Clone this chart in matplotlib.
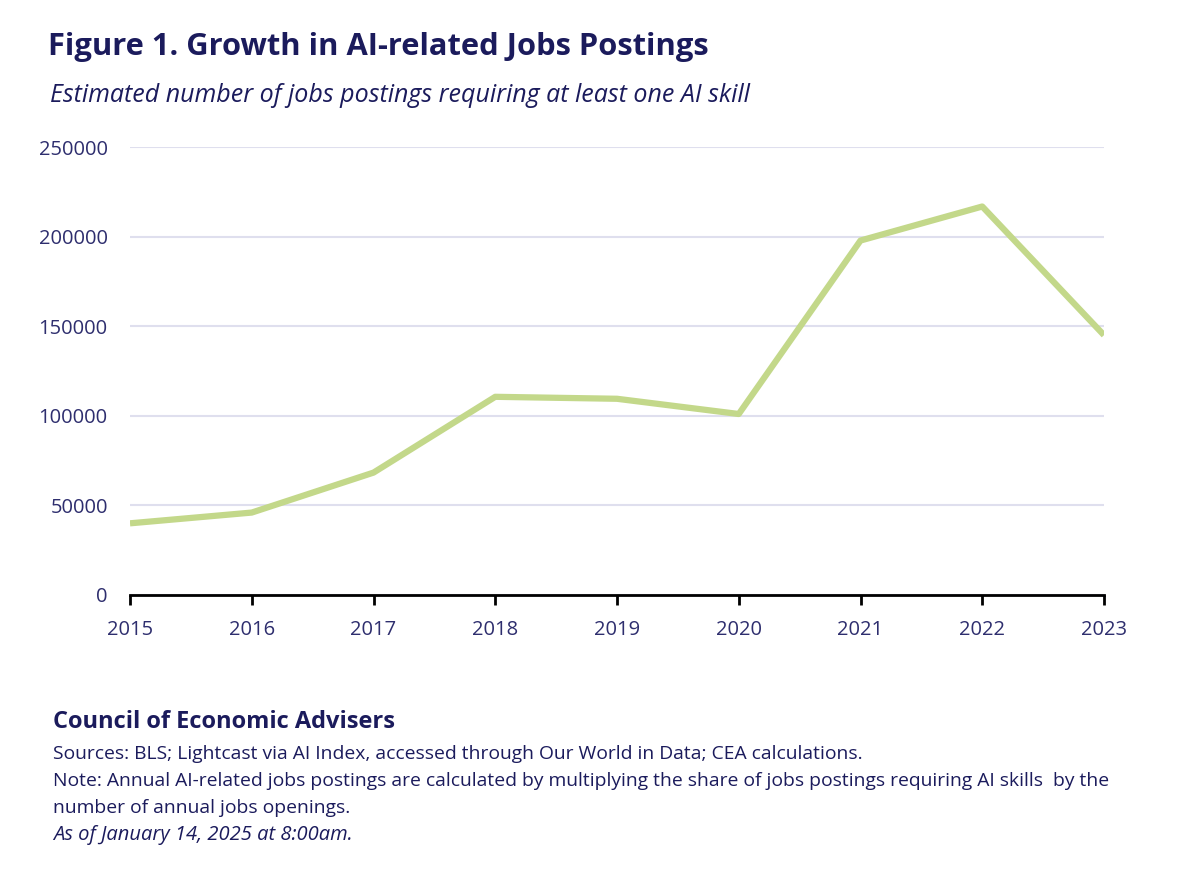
import matplotlib
matplotlib.use('Agg')
import matplotlib.pyplot as plt

years = [2015, 2016, 2017, 2018, 2019, 2020, 2021, 2022, 2023]
postings = [40000, 46000, 68300, 110600, 109500, 101000, 197800, 216800, 145000]
yticks = [0, 50000, 100000, 150000, 200000, 250000]

navy = '#1b1b5c'
tickcol = '#2e2e6e'
green = '#c3d88a'

plt.rcParams['font.family'] = ['Open Sans', 'DejaVu Sans']

fig = plt.figure(figsize=(11.96, 8.84), dpi=100)
ax = fig.add_axes([130/1196, 1-595/884, (1104-130)/1196, (595-147)/884])

ax.plot(years, postings, color=green, lw=4.5, solid_capstyle='butt', zorder=3)

ax.set_xlim(2015, 2023)
ax.set_ylim(0, 250000)
ax.set_xticks(years)
ax.set_yticks(yticks)
ax.set_yticklabels([str(v) for v in yticks])
ax.grid(axis='y', color='#dfdfee', lw=1.5, zorder=0)
ax.set_axisbelow(True)
for s in ['top', 'right', 'left']:
    ax.spines[s].set_visible(False)
ax.spines['bottom'].set_color('black')
ax.spines['bottom'].set_linewidth(2)
ax.spines['bottom'].set_zorder(4)
ax.tick_params(axis='x', direction='out', length=7, width=2, color='black',
               labelsize=14.5, labelcolor=tickcol, pad=11)
ax.tick_params(axis='y', length=0, labelsize=14.5, labelcolor=tickcol, pad=16)

fig.text(48/1196, 1-47/884, 'Figure 1. Growth in AI-related Jobs Postings',
         fontsize=22.2, fontweight='bold', color=navy, va='center', ha='left')
fig.text(50/1196, 1-96/884, 'Estimated number of jobs postings requiring at least one AI skill',
         fontsize=18, style='italic', color=navy, va='center', ha='left')

fig.text(53/1196, 1-722/884, 'Council of Economic Advisers',
         fontsize=17, fontweight='bold', color=navy, va='center', ha='left')
notes = ['Sources: BLS; Lightcast via AI Index, accessed through Our World in Data; CEA calculations.',
         'Note: Annual AI-related jobs postings are calculated by multiplying the share of jobs postings requiring AI skills  by the',
         'number of annual jobs openings.']
for i, t in enumerate(notes):
    fig.text(53/1196, 1-(754+27*i)/884, t, fontsize=13.9, color=navy,
             va='center', ha='left')
fig.text(53/1196, 1-835/884, 'As of January 14, 2025 at 8:00am.', fontsize=14.5,
         style='italic', color=navy, va='center', ha='left')

fig.savefig('out.png', dpi=100)
